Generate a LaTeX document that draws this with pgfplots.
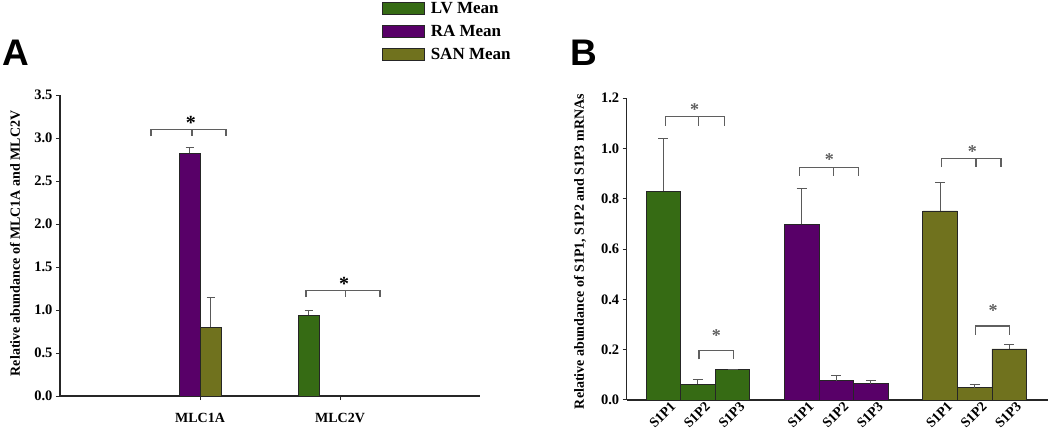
\documentclass[border=0pt]{standalone}
\usepackage{pgfplots}
\pgfplotsset{compat=1.18}
\usepackage{fontspec}
\setmainfont{Liberation Serif}
\newfontfamily\panelfont{Liberation Sans}
\definecolor{lvg}{RGB}{54,107,20}
\definecolor{rap}{RGB}{88,0,104}
\definecolor{sano}{RGB}{112,114,30}
\definecolor{brk}{RGB}{95,95,95}
\pgfplotsset{
  common/.style={
    scale only axis, anchor=south west, clip=false,
    axis lines*=left,
    axis line style={line width=1.2pt, black!85},
    tick align=outside, major tick length=4pt,
    every tick/.style={line width=1pt, black!85},
    ymin=0,
    ybar, bar shift=0pt,
    /pgf/number format/assume math mode=true,
    yticklabel style={font=\bfseries\fontsize{14.5}{14.5}\selectfont,
      /pgf/number format/fixed, /pgf/number format/fixed zerofill,
      /pgf/number format/precision=1},
    every axis plot/.append style={draw=black!85, line width=0.8pt},
    error bars/y dir=plus, error bars/y explicit,
    error bars/error bar style={line width=1pt, black!65},
    error bars/error mark options={line width=1pt, black!65, mark size=4pt, rotate=90},
    ylabel style={font=\bfseries\fontsize{14}{14}\selectfont, anchor=center},
  },
  legimg/.style={legend image code/.code={\draw[##1,draw=black!85,line width=0.8pt] (0pt,-6pt) rectangle (42pt,6pt);}},
}
\begin{document}
\begin{tikzpicture}
\path[use as bounding box] (0pt,0pt) rectangle (1050pt,434pt);
\node[anchor=base west, inner sep=0pt, font=\panelfont\bfseries\fontsize{37}{37}\selectfont] at (2pt,368pt) {A};
\node[anchor=base west, inner sep=0pt, font=\panelfont\bfseries\fontsize{37}{37}\selectfont] at (570pt,368pt) {B};

% Panel A
\begin{axis}[common,
  at={(60pt,38pt)}, width=420pt, height=301pt,
  xmin=0, xmax=3, ymax=3.5,
  ytick={0,0.5,...,3.5},
  xtick={1,2}, xticklabels={MLC1A,MLC2V},
  xticklabel style={font=\bfseries\fontsize{14}{14}\selectfont, yshift=-10pt},
  bar width=0.15,
  ylabel={Relative abundance of MLC1A and MLC2V},
  ylabel style={at={(axis description cs:-0.107,0.507)}},
  legend style={at={(axis description cs:0.759,1.318)}, anchor=north west, draw=none, fill=none,
    font=\bfseries\fontsize{17}{17}\selectfont, row sep=8pt,
    nodes={inner xsep=6pt, inner ysep=1pt}},
  legend cell align=left,
]
\addplot[fill=lvg, legimg] coordinates {(1.775,0.94) +- (0,0.05)};
\addplot[fill=rap, legimg] coordinates {(0.925,2.82) +- (0,0.065)};
\addplot[fill=sano, legimg] coordinates {(1.075,0.80) +- (0,0.35)};
\legend{LV Mean, RA Mean, SAN Mean}
\draw[brk, line width=1.2pt] (axis cs:0.65,3.02) -- (axis cs:0.65,3.10) -- (axis cs:1.186,3.10) -- (axis cs:1.186,3.02);
\draw[brk, line width=1.2pt] (axis cs:0.943,3.10) -- (axis cs:0.943,3.02);
\node[font=\bfseries\fontsize{20}{20}\selectfont] at (axis cs:0.935,3.17) {*};
\draw[brk, line width=1.2pt] (axis cs:1.757,1.15) -- (axis cs:1.757,1.23) -- (axis cs:2.286,1.23) -- (axis cs:2.286,1.15);
\draw[brk, line width=1.2pt] (axis cs:2.04,1.23) -- (axis cs:2.04,1.15);
\node[font=\bfseries\fontsize{20}{20}\selectfont] at (axis cs:2.03,1.30) {*};
\end{axis}

% Panel B
\begin{axis}[common,
  at={(626.7pt,34pt)}, width=421.3pt, height=301.7pt,
  xmin=-1.06, xmax=11.12, ymax=1.2,
  ytick={0,0.2,...,1.2},
  xtick={0,1,2,4,5,6,8,9,10},
  xticklabels={S1P1,S1P2,S1P3,S1P1,S1P2,S1P3,S1P1,S1P2,S1P3},
  xticklabel style={font=\bfseries\fontsize{14}{14}\selectfont, rotate=45, anchor=north east, xshift=8pt, yshift=-1pt, inner sep=1pt},
  x tick style={draw=none},
  bar width=1,
  ylabel={Relative abundance of S1P1, S1P2 and S1P3 mRNAs},
  ylabel style={at={(axis description cs:-0.111,0.492)}},
  error bars/error mark options={line width=1pt, black!65, mark size=5pt, rotate=90},
]
\addplot[fill=lvg] coordinates {(0,0.831) +- (0,0.21) (1,0.062) +- (0,0.02) (2,0.12) +- (0,0.003)};
\addplot[fill=rap] coordinates {(4,0.699) +- (0,0.141) (5,0.076) +- (0,0.023) (6,0.065) +- (0,0.012)};
\addplot[fill=sano] coordinates {(8,0.752) +- (0,0.114) (9,0.049) +- (0,0.013) (10,0.203) +- (0,0.018)};
\draw[brk, line width=1.2pt] (axis cs:0.058,1.091) -- (axis cs:0.058,1.127) -- (axis cs:1.763,1.127) -- (axis cs:1.763,1.091);
\draw[brk, line width=1.2pt] (axis cs:1.02,1.127) -- (axis cs:1.02,1.091);
\node[brk, font=\bfseries\fontsize{18}{18}\selectfont] at (axis cs:0.9,1.155) {*};
\draw[brk, line width=1.2pt] (axis cs:1.03,0.162) -- (axis cs:1.03,0.196) -- (axis cs:2.02,0.196) -- (axis cs:2.02,0.162);
\node[brk, font=\bfseries\fontsize{18}{18}\selectfont] at (axis cs:1.53,0.255) {*};
\draw[brk, line width=1.2pt] (axis cs:3.93,0.892) -- (axis cs:3.93,0.926) -- (axis cs:5.64,0.926) -- (axis cs:5.64,0.892);
\draw[brk, line width=1.2pt] (axis cs:4.91,0.926) -- (axis cs:4.91,0.892);
\node[brk, font=\bfseries\fontsize{18}{18}\selectfont] at (axis cs:4.8,0.955) {*};
\draw[brk, line width=1.2pt] (axis cs:8.05,0.926) -- (axis cs:8.05,0.961) -- (axis cs:9.76,0.961) -- (axis cs:9.76,0.926);
\draw[brk, line width=1.2pt] (axis cs:9.04,0.961) -- (axis cs:9.04,0.926);
\node[brk, font=\bfseries\fontsize{18}{18}\selectfont] at (axis cs:8.93,0.99) {*};
\draw[brk, line width=1.2pt] (axis cs:9.02,0.259) -- (axis cs:9.02,0.294) -- (axis cs:10.0,0.294) -- (axis cs:10.0,0.259);
\node[brk, font=\bfseries\fontsize{18}{18}\selectfont] at (axis cs:9.53,0.355) {*};
\end{axis}
\end{tikzpicture}
\end{document}
